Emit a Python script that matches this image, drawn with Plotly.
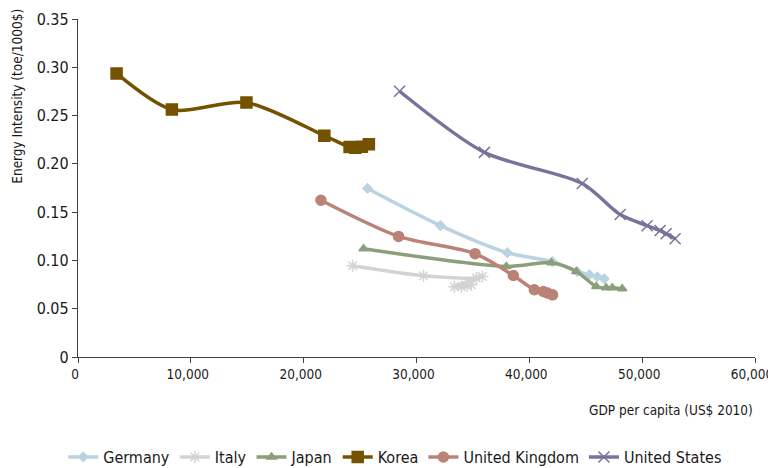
import plotly.graph_objects as go

# GDP per capita (US$ 2010) and energy intensity (toe/1000$)
germany_gdp = [25660, 32120, 38050, 42040, 44250, 45310, 46020, 46640]
germany_ei = [0.1745, 0.1361, 0.1080, 0.0987, 0.0883, 0.0852, 0.0831, 0.0810]

italy_gdp = [24340, 30620, 35310, 35840, 33360, 33980, 34510, 34870]
italy_ei = [0.0945, 0.0841, 0.0817, 0.0834, 0.0727, 0.0727, 0.0737, 0.0748]

japan_gdp = [25310, 37960, 41950, 44160, 45930, 46810, 47350, 48230]
japan_ei = [0.1122, 0.0938, 0.0976, 0.0886, 0.0730, 0.0717, 0.0717, 0.0706]

korea_gdp = [3420, 8320, 14930, 21830, 24070, 24580, 25160, 25780]
korea_ei = [0.2936, 0.2562, 0.2635, 0.2292, 0.2174, 0.2168, 0.2178, 0.2202]

uk_gdp = [21530, 28410, 35190, 38580, 40440, 41240, 41620, 42060]
uk_ei = [0.1623, 0.1249, 0.1070, 0.0844, 0.0696, 0.0678, 0.0662, 0.0644]

us_gdp = [28500, 36020, 44690, 48050, 50440, 51590, 52120, 52920]
us_ei = [0.2752, 0.2119, 0.1797, 0.1475, 0.1360, 0.1309, 0.1277, 0.1225]

y_ticks = [0, 0.05, 0.10, 0.15, 0.20, 0.25, 0.30, 0.35]
y_ticktext = ["0", "0.05", "0.10", "0.15", "0.20", "0.25", "0.30", "0.35"]
x_ticks = [0, 10000, 20000, 30000, 40000, 50000, 60000]
x_ticktext = ["0", "10,000", "20,000", "30,000", "40,000", "50,000", "60,000"]

FONT = "DejaVu Sans Condensed, Roboto, sans-serif"

series = [
    ("Germany", germany_gdp, germany_ei, "#b9d3e1", "diamond", 7, 3.5),
    ("Italy", italy_gdp, italy_ei, "#d2d3d3", "asterisk-open", 10, 3.5),
    ("Japan", japan_gdp, japan_ei, "#8b9f7a", "triangle-up", 8, 3.5),
    ("Korea", korea_gdp, korea_ei, "#735200", "square", 11, 3.5),
    ("United Kingdom", uk_gdp, uk_ei, "#bb8276", "circle", 10, 3.5),
    ("United States", us_gdp, us_ei, "#77739c", "x-thin-open", 11, 3.5),
]

fig = go.Figure()
for name, xs, ys, color, symbol, msize, lw in series:
    fig.add_trace(go.Scatter(
        x=xs, y=ys, name=name,
        mode="lines+markers",
        line=dict(color=color, width=lw, shape="spline", smoothing=0.8),
        marker=dict(symbol=symbol, size=msize, color=color,
                    line=dict(color=color, width=1.5)),
    ))

# page body has an 8px margin, so the figure is margined to land on the same pixels
fig.update_layout(
    width=776, height=460,
    margin=dict(l=70, r=29, t=11, b=111, autoexpand=False),
    paper_bgcolor="white",
    plot_bgcolor="white",
    font=dict(family=FONT, size=16, color="#1a1a1a"),
    showlegend=True,
    legend=dict(orientation="h", xref="container", x=0.499, xanchor="center",
                y=-0.296, yanchor="middle", font=dict(size=16), itemwidth=30,
                traceorder="normal"),
    xaxis=dict(range=[0, 60000], tickvals=x_ticks, ticktext=x_ticktext,
               showgrid=False, zeroline=False, showline=True,
               linecolor="#404040", linewidth=1.2, ticks="outside",
               ticklen=5, tickcolor="#404040", ticklabeloverflow="allow",
               ticklabelshift=-3, tickfont=dict(size=13.5)),
    yaxis=dict(range=[0, 0.35], tickvals=y_ticks, ticktext=y_ticktext,
               showgrid=False, zeroline=False, showline=True,
               linecolor="#404040", linewidth=1.2, ticks="outside",
               ticklen=5, tickcolor="#404040"),
    annotations=[
        dict(text="GDP per capita (US$ 2010)", xref="paper", yref="paper",
             x=1.0, y=-0.157, xanchor="right", yanchor="middle",
             showarrow=False, font=dict(size=13.5)),
        dict(text="Energy Intensity (toe/1000$)", xref="paper", yref="paper",
             x=-0.09, y=1.035, xanchor="center", yanchor="top",
             textangle=-90, showarrow=False, font=dict(size=13.5)),
    ],
)

fig.write_html("out.html")
